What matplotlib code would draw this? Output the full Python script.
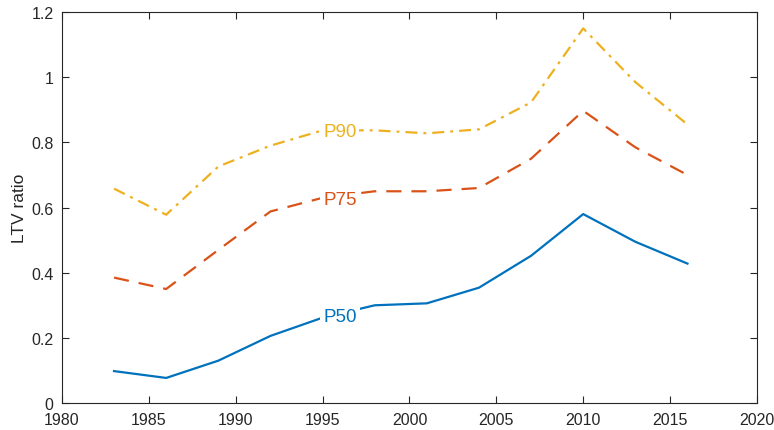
import matplotlib.pyplot as plt

plt.rcParams['font.family'] = ['Liberation Sans', 'DejaVu Sans']

years = [1983, 1986, 1989, 1992, 1995, 1998, 2001, 2004, 2007, 2010, 2013, 2016]
p50 = [0.098, 0.077, 0.130, 0.206, 0.262, 0.300, 0.306, 0.354, 0.452, 0.580, 0.495, 0.428]
p75 = [0.385, 0.350, 0.470, 0.588, 0.630, 0.650, 0.650, 0.660, 0.750, 0.897, 0.785, 0.700]
p90 = [0.658, 0.578, 0.726, 0.790, 0.837, 0.837, 0.828, 0.840, 0.923, 1.150, 0.985, 0.855]

blue = '#0072BD'
orange = '#D95319'
yellow = '#EDB120'

fig = plt.figure(figsize=(7.74, 4.31), dpi=100)
ax = fig.add_axes([0.080, 0.0626, 0.898, 0.907])

ax.plot(years, p50, color=blue, lw=1.6)
ax.plot(years, p75, color=orange, lw=1.6, dashes=(6.8, 4.5))
ax.plot(years, p90, color=yellow, lw=1.6, dashes=(5.4, 2.7, 1.3, 2.7))

# labels sit on the lines with a white box, like MATLAB's inline labels
box = dict(facecolor='white', edgecolor='none', pad=2)
ax.text(1996, 0.835, 'P90', color=yellow, fontsize=13.5, ha='center', va='center', bbox=box)
ax.text(1996, 0.626, 'P75', color=orange, fontsize=13.5, ha='center', va='center', bbox=box)
ax.text(1996, 0.267, 'P50', color=blue, fontsize=13.5, ha='center', va='center', bbox=box)

ax.set_xlim(1980, 2020)
ax.set_ylim(0, 1.2)
ax.set_xticks(range(1980, 2021, 5))
ax.set_yticks([0, 0.2, 0.4, 0.6, 0.8, 1, 1.2])
ax.set_yticklabels(['0', '0.2', '0.4', '0.6', '0.8', '1', '1.2'])
ax.set_ylabel('LTV ratio', fontsize=12.5, color='#262626', labelpad=3)

for s in ax.spines.values():
    s.set_color('#262626')
    s.set_linewidth(0.8)
ax.tick_params(direction='in', top=True, right=True, length=5, width=0.8,
               colors='#262626', labelsize=11.5)
ax.tick_params(axis='y', pad=6)
ax.tick_params(axis='x', pad=6.5)

fig.savefig('out.png', dpi=100)
